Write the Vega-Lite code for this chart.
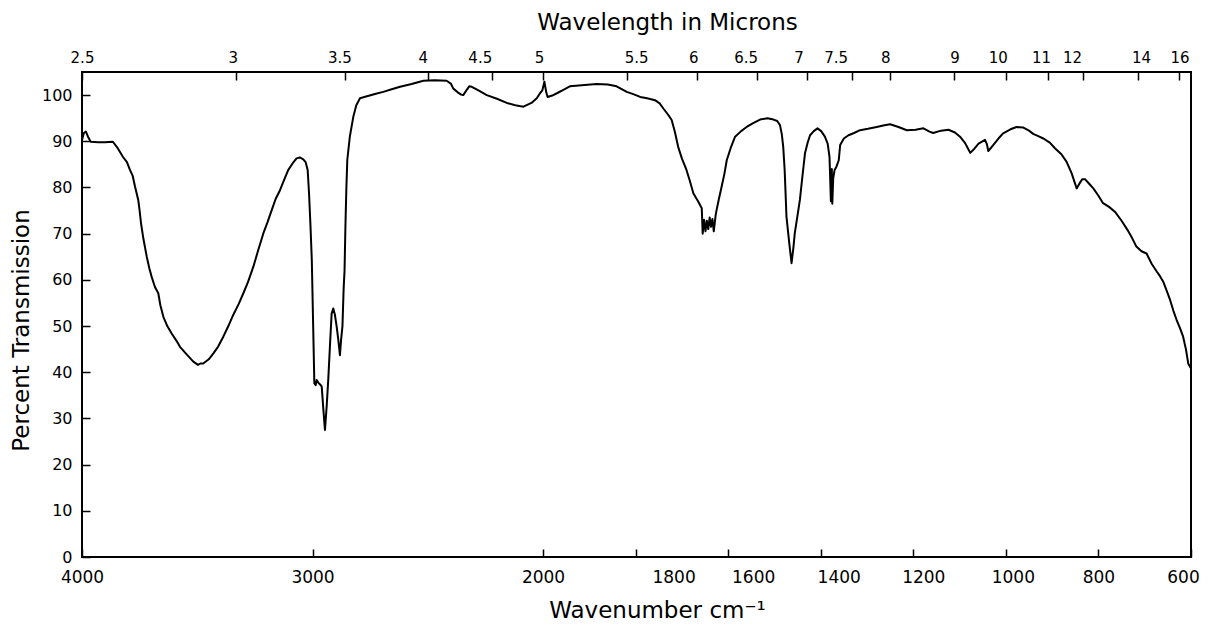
{
  "$schema": "https://vega.github.io/schema/vega-lite/v6.json",
  "width": 1109,
  "height": 485,
  "autosize": {"type": "none"},
  "padding": {"left": 82, "top": 72, "right": 17, "bottom": 77},
  "background": "white",
  "config": {
    "font": "DejaVu Sans",
    "view": {"stroke": "black", "strokeWidth": 2},
    "axis": {
      "domain": false,
      "grid": false,
      "tickColor": "black",
      "tickWidth": 1.5,
      "labelColor": "black",
      "titleColor": "black",
      "titleFontWeight": "normal",
      "labelFlush": false,
      "labelOverlap": false
    }
  },
  "datasets": {
    "spectrum": [
      {"wavenumber": 4000, "transmission": 90.3}, {"wavenumber": 3992, "transmission": 91.8},
      {"wavenumber": 3983, "transmission": 92.1}, {"wavenumber": 3974, "transmission": 91.0},
      {"wavenumber": 3962, "transmission": 89.9}, {"wavenumber": 3930, "transmission": 89.8},
      {"wavenumber": 3900, "transmission": 89.8}, {"wavenumber": 3866, "transmission": 89.9},
      {"wavenumber": 3845, "transmission": 88.5}, {"wavenumber": 3822, "transmission": 86.6},
      {"wavenumber": 3805, "transmission": 85.5}, {"wavenumber": 3792, "transmission": 83.8},
      {"wavenumber": 3780, "transmission": 82.5}, {"wavenumber": 3770, "transmission": 80.2},
      {"wavenumber": 3756, "transmission": 77.3}, {"wavenumber": 3750, "transmission": 75.0},
      {"wavenumber": 3744, "transmission": 72.3}, {"wavenumber": 3734, "transmission": 69.0},
      {"wavenumber": 3719, "transmission": 65.0}, {"wavenumber": 3708, "transmission": 62.5},
      {"wavenumber": 3698, "transmission": 60.7}, {"wavenumber": 3684, "transmission": 58.5},
      {"wavenumber": 3669, "transmission": 57.1}, {"wavenumber": 3660, "transmission": 54.5},
      {"wavenumber": 3647, "transmission": 52.0}, {"wavenumber": 3630, "transmission": 50.0},
      {"wavenumber": 3611, "transmission": 48.4}, {"wavenumber": 3590, "transmission": 46.8},
      {"wavenumber": 3575, "transmission": 45.5}, {"wavenumber": 3545, "transmission": 43.8},
      {"wavenumber": 3517, "transmission": 42.3}, {"wavenumber": 3497, "transmission": 41.6},
      {"wavenumber": 3485, "transmission": 41.9}, {"wavenumber": 3474, "transmission": 41.9},
      {"wavenumber": 3450, "transmission": 42.8}, {"wavenumber": 3430, "transmission": 44.1},
      {"wavenumber": 3410, "transmission": 45.5}, {"wavenumber": 3387, "transmission": 47.7},
      {"wavenumber": 3365, "transmission": 50.0}, {"wavenumber": 3344, "transmission": 52.4},
      {"wavenumber": 3320, "transmission": 54.8}, {"wavenumber": 3300, "transmission": 57.1},
      {"wavenumber": 3280, "transmission": 59.5}, {"wavenumber": 3257, "transmission": 62.8},
      {"wavenumber": 3235, "transmission": 66.5}, {"wavenumber": 3213, "transmission": 70.1},
      {"wavenumber": 3195, "transmission": 72.5}, {"wavenumber": 3177, "transmission": 75.1},
      {"wavenumber": 3160, "transmission": 77.5}, {"wavenumber": 3141, "transmission": 79.4},
      {"wavenumber": 3120, "transmission": 82.0}, {"wavenumber": 3105, "transmission": 83.8},
      {"wavenumber": 3085, "transmission": 85.3}, {"wavenumber": 3069, "transmission": 86.3},
      {"wavenumber": 3055, "transmission": 86.5}, {"wavenumber": 3040, "transmission": 86.1},
      {"wavenumber": 3030, "transmission": 85.5}, {"wavenumber": 3021, "transmission": 83.8},
      {"wavenumber": 3015, "transmission": 78.7}, {"wavenumber": 3009, "transmission": 72.0},
      {"wavenumber": 3003, "transmission": 64.3}, {"wavenumber": 2997, "transmission": 49.8},
      {"wavenumber": 2992, "transmission": 37.6}, {"wavenumber": 2986, "transmission": 37.2},
      {"wavenumber": 2982, "transmission": 38.3}, {"wavenumber": 2974, "transmission": 37.7},
      {"wavenumber": 2966, "transmission": 37.3}, {"wavenumber": 2960, "transmission": 36.9},
      {"wavenumber": 2953, "transmission": 32.0}, {"wavenumber": 2946, "transmission": 27.5},
      {"wavenumber": 2938, "transmission": 33.0}, {"wavenumber": 2931, "transmission": 39.0},
      {"wavenumber": 2924, "transmission": 46.0}, {"wavenumber": 2917, "transmission": 52.7},
      {"wavenumber": 2910, "transmission": 53.8}, {"wavenumber": 2903, "transmission": 52.5},
      {"wavenumber": 2895, "transmission": 49.8}, {"wavenumber": 2888, "transmission": 47.0},
      {"wavenumber": 2881, "transmission": 43.7}, {"wavenumber": 2876, "transmission": 47.0},
      {"wavenumber": 2870, "transmission": 50.0}, {"wavenumber": 2865, "transmission": 58.0},
      {"wavenumber": 2861, "transmission": 62.0}, {"wavenumber": 2857, "transmission": 72.0},
      {"wavenumber": 2853, "transmission": 80.0}, {"wavenumber": 2849, "transmission": 86.0},
      {"wavenumber": 2838, "transmission": 91.0}, {"wavenumber": 2823, "transmission": 95.3},
      {"wavenumber": 2810, "transmission": 97.8}, {"wavenumber": 2794, "transmission": 99.3},
      {"wavenumber": 2760, "transmission": 99.8}, {"wavenumber": 2725, "transmission": 100.3},
      {"wavenumber": 2693, "transmission": 100.7}, {"wavenumber": 2660, "transmission": 101.2},
      {"wavenumber": 2620, "transmission": 101.8}, {"wavenumber": 2570, "transmission": 102.4},
      {"wavenumber": 2519, "transmission": 103.1}, {"wavenumber": 2470, "transmission": 103.2},
      {"wavenumber": 2418, "transmission": 103.1}, {"wavenumber": 2400, "transmission": 102.5},
      {"wavenumber": 2389, "transmission": 101.4}, {"wavenumber": 2370, "transmission": 100.6},
      {"wavenumber": 2355, "transmission": 100.1}, {"wavenumber": 2346, "transmission": 100.0},
      {"wavenumber": 2330, "transmission": 101.2}, {"wavenumber": 2320, "transmission": 101.9},
      {"wavenumber": 2309, "transmission": 101.8}, {"wavenumber": 2280, "transmission": 101.0},
      {"wavenumber": 2244, "transmission": 100.0}, {"wavenumber": 2200, "transmission": 99.2},
      {"wavenumber": 2157, "transmission": 98.3}, {"wavenumber": 2120, "transmission": 97.8},
      {"wavenumber": 2085, "transmission": 97.5}, {"wavenumber": 2050, "transmission": 98.3},
      {"wavenumber": 2027, "transmission": 99.3}, {"wavenumber": 2013, "transmission": 100.4},
      {"wavenumber": 2003, "transmission": 101.0}, {"wavenumber": 1997, "transmission": 102.9},
      {"wavenumber": 1993, "transmission": 100.6}, {"wavenumber": 1990, "transmission": 99.6},
      {"wavenumber": 1980, "transmission": 99.9}, {"wavenumber": 1970, "transmission": 100.4},
      {"wavenumber": 1955, "transmission": 101.2}, {"wavenumber": 1942, "transmission": 101.9},
      {"wavenumber": 1910, "transmission": 102.2}, {"wavenumber": 1884, "transmission": 102.4},
      {"wavenumber": 1860, "transmission": 102.3}, {"wavenumber": 1841, "transmission": 101.9},
      {"wavenumber": 1830, "transmission": 101.3}, {"wavenumber": 1819, "transmission": 100.7},
      {"wavenumber": 1805, "transmission": 100.2}, {"wavenumber": 1790, "transmission": 99.6},
      {"wavenumber": 1775, "transmission": 99.3}, {"wavenumber": 1758, "transmission": 98.9},
      {"wavenumber": 1748, "transmission": 98.2}, {"wavenumber": 1740, "transmission": 97.1},
      {"wavenumber": 1730, "transmission": 95.8}, {"wavenumber": 1722, "transmission": 94.6},
      {"wavenumber": 1715, "transmission": 92.0}, {"wavenumber": 1708, "transmission": 88.8},
      {"wavenumber": 1700, "transmission": 86.3}, {"wavenumber": 1690, "transmission": 83.8},
      {"wavenumber": 1683, "transmission": 81.5}, {"wavenumber": 1675, "transmission": 78.7},
      {"wavenumber": 1665, "transmission": 77.0}, {"wavenumber": 1657, "transmission": 75.5},
      {"wavenumber": 1655, "transmission": 70.0}, {"wavenumber": 1652, "transmission": 73.0},
      {"wavenumber": 1649, "transmission": 70.5}, {"wavenumber": 1646, "transmission": 72.8},
      {"wavenumber": 1643, "transmission": 71.0}, {"wavenumber": 1640, "transmission": 73.5},
      {"wavenumber": 1637, "transmission": 71.5}, {"wavenumber": 1634, "transmission": 73.2},
      {"wavenumber": 1631, "transmission": 70.5}, {"wavenumber": 1627, "transmission": 74.0},
      {"wavenumber": 1625, "transmission": 75.1}, {"wavenumber": 1620, "transmission": 77.5},
      {"wavenumber": 1614, "transmission": 80.2}, {"wavenumber": 1608, "transmission": 83.0},
      {"wavenumber": 1603, "transmission": 85.9}, {"wavenumber": 1594, "transmission": 88.7},
      {"wavenumber": 1585, "transmission": 91.0}, {"wavenumber": 1572, "transmission": 92.2},
      {"wavenumber": 1560, "transmission": 93.1}, {"wavenumber": 1545, "transmission": 94.0},
      {"wavenumber": 1531, "transmission": 94.7}, {"wavenumber": 1515, "transmission": 95.0},
      {"wavenumber": 1502, "transmission": 94.7}, {"wavenumber": 1494, "transmission": 94.4},
      {"wavenumber": 1488, "transmission": 93.5}, {"wavenumber": 1484, "transmission": 91.5},
      {"wavenumber": 1481, "transmission": 88.8}, {"wavenumber": 1478, "transmission": 84.0},
      {"wavenumber": 1476, "transmission": 79.0}, {"wavenumber": 1474, "transmission": 73.7},
      {"wavenumber": 1468, "transmission": 68.0}, {"wavenumber": 1463, "transmission": 63.6},
      {"wavenumber": 1459, "transmission": 67.0}, {"wavenumber": 1456, "transmission": 70.1},
      {"wavenumber": 1450, "transmission": 74.0}, {"wavenumber": 1445, "transmission": 77.3},
      {"wavenumber": 1440, "transmission": 82.0}, {"wavenumber": 1434, "transmission": 87.4},
      {"wavenumber": 1428, "transmission": 89.8}, {"wavenumber": 1423, "transmission": 91.3},
      {"wavenumber": 1415, "transmission": 92.2}, {"wavenumber": 1407, "transmission": 92.8},
      {"wavenumber": 1399, "transmission": 92.2}, {"wavenumber": 1391, "transmission": 91.0},
      {"wavenumber": 1385, "transmission": 89.5}, {"wavenumber": 1381, "transmission": 86.6},
      {"wavenumber": 1378, "transmission": 77.0}, {"wavenumber": 1376, "transmission": 84.0},
      {"wavenumber": 1375, "transmission": 76.5}, {"wavenumber": 1373, "transmission": 82.0},
      {"wavenumber": 1370, "transmission": 83.8}, {"wavenumber": 1366, "transmission": 84.5},
      {"wavenumber": 1361, "transmission": 85.9}, {"wavenumber": 1358, "transmission": 89.2},
      {"wavenumber": 1350, "transmission": 90.6}, {"wavenumber": 1340, "transmission": 91.3},
      {"wavenumber": 1328, "transmission": 91.8}, {"wavenumber": 1315, "transmission": 92.4},
      {"wavenumber": 1298, "transmission": 92.7}, {"wavenumber": 1279, "transmission": 93.1},
      {"wavenumber": 1265, "transmission": 93.4}, {"wavenumber": 1250, "transmission": 93.7},
      {"wavenumber": 1232, "transmission": 93.1}, {"wavenumber": 1214, "transmission": 92.4},
      {"wavenumber": 1195, "transmission": 92.5}, {"wavenumber": 1178, "transmission": 92.8},
      {"wavenumber": 1165, "transmission": 92.1}, {"wavenumber": 1157, "transmission": 91.8},
      {"wavenumber": 1140, "transmission": 92.3}, {"wavenumber": 1124, "transmission": 92.5},
      {"wavenumber": 1110, "transmission": 91.9}, {"wavenumber": 1099, "transmission": 91.0},
      {"wavenumber": 1088, "transmission": 89.6}, {"wavenumber": 1077, "transmission": 87.5},
      {"wavenumber": 1068, "transmission": 88.4}, {"wavenumber": 1059, "transmission": 89.5},
      {"wavenumber": 1045, "transmission": 90.3}, {"wavenumber": 1041, "transmission": 89.4},
      {"wavenumber": 1038, "transmission": 87.9}, {"wavenumber": 1032, "transmission": 88.6},
      {"wavenumber": 1027, "transmission": 89.2}, {"wavenumber": 1016, "transmission": 90.6},
      {"wavenumber": 1006, "transmission": 91.7}, {"wavenumber": 990, "transmission": 92.6},
      {"wavenumber": 977, "transmission": 93.1}, {"wavenumber": 963, "transmission": 93.0},
      {"wavenumber": 950, "transmission": 92.3}, {"wavenumber": 941, "transmission": 91.6},
      {"wavenumber": 930, "transmission": 91.1}, {"wavenumber": 919, "transmission": 90.6},
      {"wavenumber": 905, "transmission": 89.7}, {"wavenumber": 894, "transmission": 88.5},
      {"wavenumber": 880, "transmission": 87.2}, {"wavenumber": 869, "transmission": 85.6},
      {"wavenumber": 858, "transmission": 83.1}, {"wavenumber": 847, "transmission": 79.8},
      {"wavenumber": 840, "transmission": 81.0}, {"wavenumber": 835, "transmission": 81.8},
      {"wavenumber": 829, "transmission": 81.8}, {"wavenumber": 820, "transmission": 80.8},
      {"wavenumber": 811, "transmission": 79.8}, {"wavenumber": 800, "transmission": 78.2},
      {"wavenumber": 790, "transmission": 76.6}, {"wavenumber": 777, "transmission": 75.8},
      {"wavenumber": 764, "transmission": 74.7}, {"wavenumber": 750, "transmission": 72.8},
      {"wavenumber": 739, "transmission": 71.1}, {"wavenumber": 728, "transmission": 69.2},
      {"wavenumber": 718, "transmission": 67.2}, {"wavenumber": 707, "transmission": 66.2},
      {"wavenumber": 696, "transmission": 65.7}, {"wavenumber": 685, "transmission": 63.5},
      {"wavenumber": 674, "transmission": 61.8}, {"wavenumber": 667, "transmission": 60.8},
      {"wavenumber": 660, "transmission": 59.6}, {"wavenumber": 652, "transmission": 57.5},
      {"wavenumber": 645, "transmission": 55.6}, {"wavenumber": 638, "transmission": 53.3},
      {"wavenumber": 631, "transmission": 51.3}, {"wavenumber": 624, "transmission": 49.6},
      {"wavenumber": 617, "transmission": 47.7}, {"wavenumber": 611, "transmission": 45.0},
      {"wavenumber": 606, "transmission": 41.9}, {"wavenumber": 602, "transmission": 41.2},
      {"wavenumber": 600, "transmission": 40.8}
    ],
    "microns": [
      {"micron": 2.5, "wavenumber": 4000}, {"micron": 3, "wavenumber": 3333.33},
      {"micron": 3.5, "wavenumber": 2857.14}, {"micron": 4, "wavenumber": 2500},
      {"micron": 4.5, "wavenumber": 2222.22}, {"micron": 5, "wavenumber": 2000},
      {"micron": 5.5, "wavenumber": 1818.18}, {"micron": 6, "wavenumber": 1666.67},
      {"micron": 6.5, "wavenumber": 1538.46}, {"micron": 7, "wavenumber": 1428.57},
      {"micron": 7.5, "wavenumber": 1333.33}, {"micron": 8, "wavenumber": 1250},
      {"micron": 9, "wavenumber": 1111.11}, {"micron": 10, "wavenumber": 1000},
      {"micron": 11, "wavenumber": 909.09}, {"micron": 12, "wavenumber": 833.33},
      {"micron": 14, "wavenumber": 714.29}, {"micron": 16, "wavenumber": 625}
    ]
  },
  "layer": [
    {
      "data": {"name": "spectrum"},
      "mark": {"type": "line", "stroke": "black", "strokeWidth": 2, "strokeJoin": "round"},
      "encoding": {
        "x": {
          "field": "wavenumber",
          "type": "quantitative",
          "scale": {"domain": [4000, 2000, 600], "range": [0, 461, 1109], "zero": false, "nice": false},
          "axis": {
            "orient": "bottom",
            "values": [4000, 3000, 2000, 1800, 1600, 1400, 1200, 1000, 800, 600],
            "format": "d",
            "tickSize": -8,
            "labelFontSize": 17,
            "labelPadding": 20,
            "labelOffset": {
              "condition": [
                {"test": "datum.value === 1800", "value": 38},
                {"test": "datum.value === 1600", "value": 25},
                {"test": "datum.value === 1400", "value": 18},
                {"test": "datum.value === 1200", "value": 10},
                {"test": "datum.value === 1000", "value": 7},
                {"test": "datum.value === 600", "value": -8}
              ],
              "value": 0
            },
            "title": "Wavenumber cm⁻¹",
            "titleFontSize": 23,
            "titlePadding": 14,
            "titleX": 575
          }
        },
        "y": {
          "field": "transmission",
          "type": "quantitative",
          "scale": {"domain": [0, 105], "zero": true, "nice": false},
          "axis": {
            "values": [0, 10, 20, 30, 40, 50, 60, 70, 80, 90, 100],
            "tickSize": -8,
            "labelFontSize": 16,
            "labelPadding": 18,
            "title": "Percent Transmission",
            "titleFontSize": 23,
            "titlePadding": 8,
            "titleY": 258
          }
        }
      }
    },
    {
      "data": {"name": "microns"},
      "mark": {"type": "point", "opacity": 0},
      "encoding": {
        "x": {
          "field": "wavenumber",
          "type": "quantitative",
          "scale": {"domain": [4000, 2000, 600], "range": [0, 461, 1109], "zero": false, "nice": false},
          "axis": {
            "orient": "top",
            "values": [4000, 3333.33, 2857.14, 2500, 2222.22, 2000, 1818.18, 1666.67, 1538.46, 1428.57, 1333.33, 1250, 1111.11, 1000, 909.09, 833.33, 714.29, 625],
            "labelExpr": "format(10000 / datum.value, '.1~f')",
            "tickSize": -8,
            "labelFontSize": 15,
            "labelPadding": 15,
            "labelOffset": {
              "condition": [
                {"test": "datum.value === 3333.33", "value": -3},
                {"test": "datum.value === 2857.14", "value": -6},
                {"test": "datum.value === 2500", "value": -5},
                {"test": "datum.value === 2222.22", "value": -12},
                {"test": "datum.value === 2000", "value": -4},
                {"test": "datum.value === 1818.18", "value": 9},
                {"test": "datum.value === 1666.67", "value": -4},
                {"test": "datum.value === 1538.46", "value": -11},
                {"test": "datum.value === 1428.57", "value": -9},
                {"test": "datum.value === 1333.33", "value": -16},
                {"test": "datum.value === 1250", "value": -5},
                {"test": "datum.value === 1000", "value": -8},
                {"test": "datum.value === 909.09", "value": -7},
                {"test": "datum.value === 833.33", "value": -11},
                {"test": "datum.value === 714.29", "value": 3}
              ],
              "value": 0
            },
            "title": "Wavelength in Microns",
            "titleFontSize": 23,
            "titlePadding": 16,
            "titleX": 585
          }
        }
      }
    }
  ],
  "resolve": {"axis": {"x": "independent"}}
}
